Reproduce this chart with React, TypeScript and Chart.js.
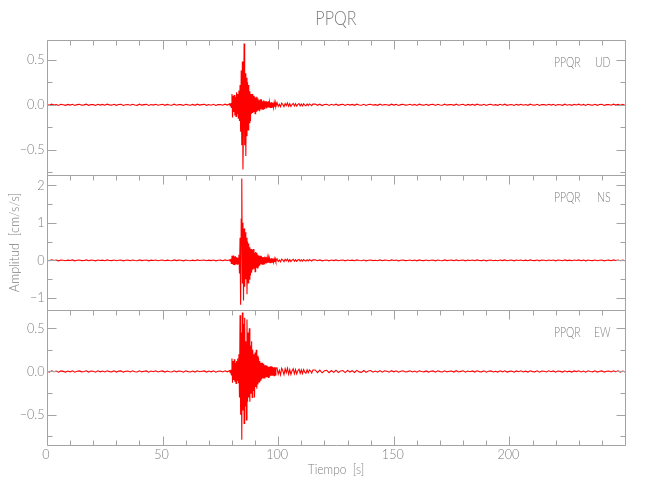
import React, { useEffect, useRef } from "react";
import { Chart, registerables } from "chart.js";

Chart.register(...registerables);

// ---- Station / components ----
const STATION = "PPQR";
const COMPONENTS = ["UD", "NS", "EW"];
const TITLE = "PPQR";
const X_TITLE = "Tiempo  [s]";
const Y_TITLE = "Amplitud  [cm/s/s]";

// ---- time sampling of each stored segment (seconds) ----
const PRE_START = 0, PRE_STEP = 1;         // 0 .. 78
const BURST_START = 79, BURST_STEP = 0.25; // 79 .. 99
const CODA_START = 99.5, CODA_STEP = 0.5;  // 99.5 .. 115
const TAIL_START = 116, TAIL_STEP = 1;     // 116 .. 250

// ---- axis ranges & ticks ----
const X_MIN = 0, X_MAX = 250;
const xMajorTicks = [0, 50, 100, 150, 200, 250];
const xMinorTicks = [10, 20, 30, 40, 60, 70, 80, 90, 110, 120, 130, 140, 160, 170, 180, 190, 210, 220, 230, 240];
const xLabelValues = [0, 50, 100, 150, 200];
const xLabels = ["0", "50", "100", "150", "200"];

const udRange = [-0.78, 0.72];
const udMajor = [0.5, 0, -0.5];
const udLabels = ["0.5", "0.0", "\u22120.5"];
const udMinor = [0.25, -0.25, -0.75];

const nsRange = [-1.32, 2.27];
const nsMajor = [2, 1, 0, -1];
const nsLabels = ["2", "1", "0", "\u22121"];
const nsMinor = [1.5, 0.5, -0.5];

const ewRange = [-0.85, 0.71];
const ewMajor = [0.5, 0, -0.5];
const ewLabels = ["0.5", "0.0", "\u22120.5"];
const ewMinor = [0.25, -0.25, -0.75];

// ---- UD trace (cm/s/s) ----
const udPre = [
  0.004,-0.005,0.007,-0.002,0.003,-0.007,0.005,0.001,-0.006,0.004,
  -0.003,0.006,-0.007,0.002,0.005,-0.004,-0.001,0.007,-0.006,0.003,
  0.002,-0.007,0.006,-0.003,0.004,-0.005,0.007,-0.001,-0.004,0.006,
  -0.006,0.003,0.005,-0.007,0.001,0.004,-0.005,0.006,-0.002,-0.006,
  0.007,-0.004,0.002,0.005,-0.007,0.003,-0.003,0.006,-0.005,0.001,
  0.005,-0.006,0.004,-0.002,-0.005,0.007,-0.004,0.003,0.002,-0.007,
  0.006,-0.001,-0.005,0.004,-0.006,0.007,-0.003,0.002,0.005,-0.006,
  0.003,-0.004,0.006,-0.007,0.002,0.004,-0.005,0.007,-0.003];
const udBurst = [
  0.01,-0.012,0.018,-0.03,0.12,-0.14,0.1,-0.08,0.11,-0.12,
  0.09,-0.13,0.14,-0.1,0.12,-0.15,0.16,-0.18,0.22,-0.3,
  0.38,-0.45,0.48,-0.72,-0.2,0.68,-0.45,0.35,-0.57,0.3,
  -0.35,0.25,-0.28,0.22,-0.2,0.15,-0.18,0.12,-0.1,0.12,
  -0.09,0.1,-0.08,0.09,-0.1,0.08,-0.07,0.09,-0.06,0.07,
  -0.06,0.05,-0.07,0.06,-0.05,0.06,-0.05,0.04,-0.05,0.05,
  -0.04,0.04,-0.03,0.04,-0.04,0.03,-0.03,0.04,-0.03,0.03,
  -0.03,0.025,-0.03,0.03,-0.025,0.02,-0.03,0.025,-0.02,0.025,
  -0.02];
const udCoda = [
  0.024,-0.018,0.006,-0.022,0.019,0.004,-0.02,0.015,-0.008,0.021,
  -0.017,0.012,-0.019,0.003,0.016,-0.014,0.011,-0.015,0.005,0.013,
  -0.012,0.009,-0.013,0.011,-0.004,-0.011,0.01,-0.008,0.009,0.002,
  -0.009,0.008];
const udTail = [
  0.008,-0.006,0.007,-0.008,0.003,0.006,-0.007,0.005,-0.004,0.007,
  -0.006,0.002,0.005,-0.007,0.006,-0.003,0.004,-0.006,0.007,-0.002,
  -0.005,0.006,-0.007,0.003,0.005,-0.004,0.002,-0.006,0.007,-0.005,
  0.004,0.001,-0.006,0.007,-0.003,0.005,-0.007,0.002,0.006,-0.004,
  -0.002,0.006,-0.005,0.004,-0.007,0.007,-0.001,-0.004,0.005,-0.006,
  0.003,0.005,-0.007,0.006,-0.002,-0.005,0.007,-0.004,0.002,0.004,
  -0.006,0.007,-0.005,0.001,0.006,-0.007,0.004,-0.003,0.005,-0.006,
  0.007,-0.002,-0.004,0.006,-0.007,0.003,0.005,-0.005,0.002,-0.006,
  0.006,-0.004,0.007,-0.006,0.001,0.004,-0.007,0.005,-0.003,0.006,
  -0.005,0.003,-0.006,0.007,-0.002,-0.004,0.006,-0.007,0.004,0.002,
  -0.005,0.006,-0.003,0.005,-0.007,0.004,0.001,-0.006,0.007,-0.004,
  0.003,-0.006,0.005,-0.002,0.007,-0.005,0.004,-0.007,0.006,-0.001,
  -0.004,0.006,-0.006,0.003,0.005,-0.007,0.002,0.004,-0.005,0.007,
  -0.003,0.005,-0.006,0.004,-0.005];

// ---- NS trace ----
const nsPre = [
  0.008,-0.011,0.012,-0.004,0.006,-0.012,0.009,0.002,-0.01,0.007,
  -0.005,0.011,-0.012,0.004,0.009,-0.007,-0.002,0.012,-0.01,0.005,
  0.004,-0.012,0.01,-0.005,0.007,-0.009,0.012,-0.002,-0.007,0.01,
  -0.01,0.005,0.009,-0.012,0.002,0.007,-0.009,0.01,-0.004,-0.01,
  0.012,-0.007,0.004,0.009,-0.012,0.005,-0.005,0.01,-0.009,0.002,
  0.009,-0.01,0.007,-0.004,-0.009,0.012,-0.007,0.005,0.004,-0.012,
  0.01,-0.002,-0.009,0.007,-0.01,0.012,-0.005,0.004,0.009,-0.01,
  0.005,-0.007,0.01,-0.012,0.004,0.007,-0.009,0.012,-0.005];
const nsBurst = [
  0.01,-0.02,0.04,-0.08,0.12,-0.1,0.13,-0.12,0.1,-0.13,
  0.11,-0.09,0.08,-0.1,0.07,-0.08,0.15,-0.35,0.6,-1.18,
  1.1,2.18,-0.6,1.0,-1.07,0.85,-0.7,0.75,-0.5,0.6,
  -0.9,0.5,-0.6,0.45,-0.5,0.35,-0.4,0.3,-0.33,0.28,
  -0.25,0.3,-0.22,0.2,-0.3,0.22,-0.18,0.2,-0.2,0.15,
  -0.17,0.12,-0.14,0.12,-0.1,0.11,-0.1,0.09,-0.1,0.08,
  -0.09,0.1,-0.07,0.08,-0.08,0.07,-0.06,0.07,-0.06,0.05,
  -0.06,0.05,-0.05,0.06,-0.05,0.04,-0.05,0.04,-0.04,0.04,
  -0.03];
const nsCoda = [
  0.04,-0.03,0.012,-0.038,0.033,0.006,-0.034,0.028,-0.014,0.035,
  -0.03,0.02,-0.032,0.006,0.028,-0.025,0.02,-0.026,0.008,0.023,
  -0.021,0.016,-0.022,0.019,-0.007,-0.019,0.017,-0.014,0.016,0.004,
  -0.016,0.014];
const nsTail = [
  0.014,-0.01,0.012,-0.013,0.005,0.01,-0.012,0.009,-0.007,0.012,
  -0.01,0.004,0.009,-0.012,0.01,-0.005,0.007,-0.01,0.012,-0.004,
  -0.009,0.01,-0.012,0.005,0.009,-0.007,0.004,-0.01,0.012,-0.009,
  0.007,0.002,-0.01,0.012,-0.005,0.009,-0.012,0.004,0.01,-0.007,
  -0.004,0.01,-0.009,0.007,-0.012,0.012,-0.002,-0.007,0.009,-0.01,
  0.005,0.009,-0.012,0.01,-0.004,-0.009,0.012,-0.007,0.004,0.007,
  -0.01,0.012,-0.009,0.002,0.01,-0.012,0.007,-0.005,0.009,-0.01,
  0.012,-0.004,-0.007,0.01,-0.012,0.005,0.009,-0.009,0.004,-0.01,
  0.01,-0.007,0.012,-0.01,0.002,0.007,-0.012,0.009,-0.005,0.01,
  -0.009,0.005,-0.01,0.012,-0.004,-0.007,0.01,-0.012,0.007,0.004,
  -0.009,0.01,-0.005,0.009,-0.012,0.007,0.002,-0.01,0.012,-0.007,
  0.005,-0.01,0.009,-0.004,0.012,-0.009,0.007,-0.012,0.01,-0.002,
  -0.007,0.01,-0.01,0.005,0.009,-0.012,0.004,0.007,-0.009,0.012,
  -0.005,0.009,-0.01,0.007,-0.009];

// ---- EW trace ----
const ewPre = [
  0.005,-0.007,0.008,-0.003,0.004,-0.008,0.006,0.001,-0.007,0.005,
  -0.004,0.007,-0.008,0.003,0.006,-0.005,-0.001,0.008,-0.007,0.004,
  0.003,-0.008,0.007,-0.004,0.005,-0.006,0.008,-0.002,-0.005,0.007,
  -0.007,0.004,0.006,-0.008,0.002,0.005,-0.006,0.007,-0.003,-0.007,
  0.008,-0.005,0.003,0.006,-0.008,0.004,-0.004,0.007,-0.006,0.002,
  0.006,-0.007,0.005,-0.003,-0.006,0.008,-0.005,0.004,0.003,-0.008,
  0.007,-0.002,-0.006,0.005,-0.007,0.008,-0.004,0.003,0.006,-0.007,
  0.004,-0.005,0.007,-0.008,0.003,0.005,-0.006,0.008,-0.004];
const ewBurst = [
  0.01,-0.015,0.02,-0.04,0.15,-0.13,0.12,-0.1,0.14,-0.12,
  0.1,-0.14,0.12,-0.1,0.15,-0.13,0.2,-0.3,0.65,-0.5,
  0.45,-0.79,0.68,-0.45,0.55,-0.6,0.62,-0.4,0.35,-0.56,
  0.6,-0.35,0.45,-0.3,0.5,-0.35,0.3,-0.25,0.35,-0.3,
  0.25,-0.22,0.2,-0.3,0.22,-0.18,0.25,-0.2,0.18,-0.15,
  0.16,-0.12,0.12,-0.1,0.1,-0.09,0.1,-0.08,0.09,-0.08,
  0.07,-0.08,0.07,-0.06,0.07,-0.06,0.06,-0.07,0.05,-0.06,
  0.06,-0.05,0.06,-0.05,0.05,-0.05,0.04,-0.05,0.05,-0.04,
  0.04];
const ewCoda = [
  0.042,-0.032,0.012,-0.04,0.036,0.008,-0.036,0.03,-0.015,0.037,
  -0.032,0.022,-0.034,0.007,0.03,-0.027,0.022,-0.028,0.009,0.025,
  -0.023,0.018,-0.024,0.021,-0.008,-0.021,0.019,-0.016,0.018,0.005,
  -0.018,0.016];
const ewTail = [
  0.017,-0.014,0.015,-0.016,0.008,0.013,-0.015,0.011,-0.01,0.014,
  -0.013,0.006,0.011,-0.013,0.012,-0.007,0.009,-0.012,0.012,-0.005,
  -0.01,0.011,-0.011,0.005,0.01,-0.008,0.004,-0.009,0.01,-0.008,
  0.007,0.002,-0.009,0.009,-0.004,0.008,-0.009,0.003,0.008,-0.006,
  -0.002,0.007,-0.006,0.005,-0.008,0.008,-0.001,-0.005,0.006,-0.007,
  0.003,0.006,-0.008,0.007,-0.002,-0.006,0.008,-0.005,0.002,0.005,
  -0.007,0.008,-0.006,0.001,0.007,-0.008,0.005,-0.003,0.006,-0.007,
  0.008,-0.002,-0.005,0.007,-0.008,0.003,0.006,-0.006,0.002,-0.007,
  0.007,-0.005,0.008,-0.007,0.001,0.005,-0.008,0.006,-0.003,0.007,
  -0.006,0.003,-0.007,0.008,-0.002,-0.005,0.007,-0.008,0.005,0.002,
  -0.006,0.007,-0.003,0.006,-0.008,0.005,0.001,-0.007,0.008,-0.005,
  0.003,-0.007,0.006,-0.002,0.008,-0.006,0.005,-0.008,0.007,-0.001,
  -0.005,0.007,-0.007,0.003,0.006,-0.008,0.002,0.005,-0.006,0.008,
  -0.003,0.006,-0.007,0.005,-0.006];

// ---- styling ----
const TRACE_COLOR = "#ff0000";
const AXIS_COLOR = "#a3a3a3";
const TEXT_COLOR = "#7d7d7d";
const FONT = "Lato, 'DejaVu Sans', sans-serif";

type Pt = { x: number; y: number };

function segment(start: number, step: number, values: number[]): Pt[] {
  return values.map((v, i) => ({ x: start + i * step, y: v }));
}

function trace(pre: number[], burst: number[], coda: number[], tail: number[]): Pt[] {
  return [
    ...segment(PRE_START, PRE_STEP, pre),
    ...segment(BURST_START, BURST_STEP, burst),
    ...segment(CODA_START, CODA_STEP, coda),
    ...segment(TAIL_START, TAIL_STEP, tail),
  ];
}

const PANELS = [
  { axis: "yUD", major: udMajor, minor: udMinor, labels: udLabels, comp: COMPONENTS[0] },
  { axis: "yNS", major: nsMajor, minor: nsMinor, labels: nsLabels, comp: COMPONENTS[1] },
  { axis: "yEW", major: ewMajor, minor: ewMinor, labels: ewLabels, comp: COMPONENTS[2] },
];

function text(ctx: CanvasRenderingContext2D, s: string, x: number, y: number, size: number, align: CanvasTextAlign, sx: number, rot = 0) {
  ctx.save();
  ctx.translate(x, y);
  if (rot) ctx.rotate(rot);
  ctx.scale(sx, 1);
  ctx.font = `300 ${size}px ${FONT}`;
  ctx.fillStyle = TEXT_COLOR;
  ctx.textAlign = align;
  ctx.textBaseline = "middle";
  ctx.fillText(s, 0, 0);
  ctx.restore();
}

const framePlugin = {
  id: "seisFrame",
  afterDatasetsDraw(chart: any) {
    const { ctx, chartArea } = chart;
    const xs = chart.scales.x;
    const L = Math.round(chartArea.left) + 0.5;
    const R = Math.round(chartArea.right) + 0.5;
    ctx.save();
    ctx.lineWidth = 1;
    PANELS.forEach((p, i) => {
      const ys = chart.scales[p.axis];
      const T = Math.round(ys.top) + 0.5;
      const B = Math.round(ys.bottom) + 0.5;
      const last = i === PANELS.length - 1;
      ctx.strokeStyle = AXIS_COLOR;
      ctx.beginPath();
      ctx.rect(L, T, R - L, B - T);
      ctx.stroke();
      ctx.beginPath();
      const xTick = (v: number, len: number) => {
        const px = Math.round(xs.getPixelForValue(v)) + 0.5;
        ctx.moveTo(px, T);
        ctx.lineTo(px, T + len);
        if (last) {
          ctx.moveTo(px, B);
          ctx.lineTo(px, B - len);
        }
      };
      xMajorTicks.forEach((v) => xTick(v, 9));
      xMinorTicks.forEach((v) => xTick(v, 5));
      const yTick = (v: number, len: number) => {
        const py = Math.round(ys.getPixelForValue(v)) + 0.5;
        ctx.moveTo(L, py);
        ctx.lineTo(L + len, py);
        ctx.moveTo(R, py);
        ctx.lineTo(R - len, py);
      };
      p.major.forEach((v) => yTick(v, 9));
      p.minor.forEach((v) => yTick(v, 5));
      ctx.stroke();

      p.major.forEach((v, k) => {
        text(ctx, p.labels[k], L - 3, ys.getPixelForValue(v), 14, "right", 0.9);
      });
      text(ctx, STATION, R - 45, T + 22, 13, "right", 0.8);
      text(ctx, p.comp, R - 15, T + 22, 13, "right", 0.8);
    });

    const bottom = chart.scales.yEW.bottom;
    xLabelValues.forEach((v, k) => {
      text(ctx, xLabels[k], xs.getPixelForValue(v) - 1, bottom + 9, 14, "center", 0.9);
    });
    const cx = (chartArea.left + chartArea.right) / 2;
    text(ctx, X_TITLE, cx, bottom + 24, 14, "center", 0.85);
    text(ctx, TITLE, cx, chartArea.top - 21, 19, "center", 0.85);

    const mid = chart.scales.yNS;
    text(ctx, Y_TITLE, 14, (mid.top + mid.bottom) / 2, 14, "center", 0.9, -Math.PI / 2);
    ctx.restore();
  },
};

export default function App() {
  const ref = useRef<HTMLCanvasElement | null>(null);
  useEffect(() => {
    if (!ref.current) return;
    const ds = (data: Pt[], axis: string) => ({
      data,
      yAxisID: axis,
      borderColor: TRACE_COLOR,
      borderWidth: 1.1,
      pointRadius: 0,
      tension: 0,
      fill: false,
    });
    const chart = new Chart(ref.current, {
      type: "line",
      data: {
        datasets: [
          ds(trace(udPre, udBurst, udCoda, udTail), "yUD"),
          ds(trace(nsPre, nsBurst, nsCoda, nsTail), "yNS"),
          ds(trace(ewPre, ewBurst, ewCoda, ewTail), "yEW"),
        ],
      },
      options: {
        responsive: false,
        animation: false,
        devicePixelRatio: 1,
        layout: { padding: { left: 47, right: 25, top: 40, bottom: 55 } },
        plugins: { legend: { display: false }, tooltip: { enabled: false } },
        scales: {
          x: { type: "linear", min: X_MIN, max: X_MAX, display: false },
          yUD: { type: "linear", position: "right", min: udRange[0], max: udRange[1], display: false, stack: "seis", stackWeight: 1 },
          yNS: { type: "linear", position: "right", min: nsRange[0], max: nsRange[1], display: false, stack: "seis", stackWeight: 1 },
          yEW: { type: "linear", position: "right", min: ewRange[0], max: ewRange[1], display: false, stack: "seis", stackWeight: 1 },
        },
      } as any,
      plugins: [framePlugin],
    });
    return () => chart.destroy();
  }, []);
  return (
    <div style={{ position: "absolute", left: 0, top: 0, width: 650, height: 500, background: "#fff" }}>
      <canvas ref={ref} width={650} height={500} style={{ display: "block" }} />
    </div>
  );
}
